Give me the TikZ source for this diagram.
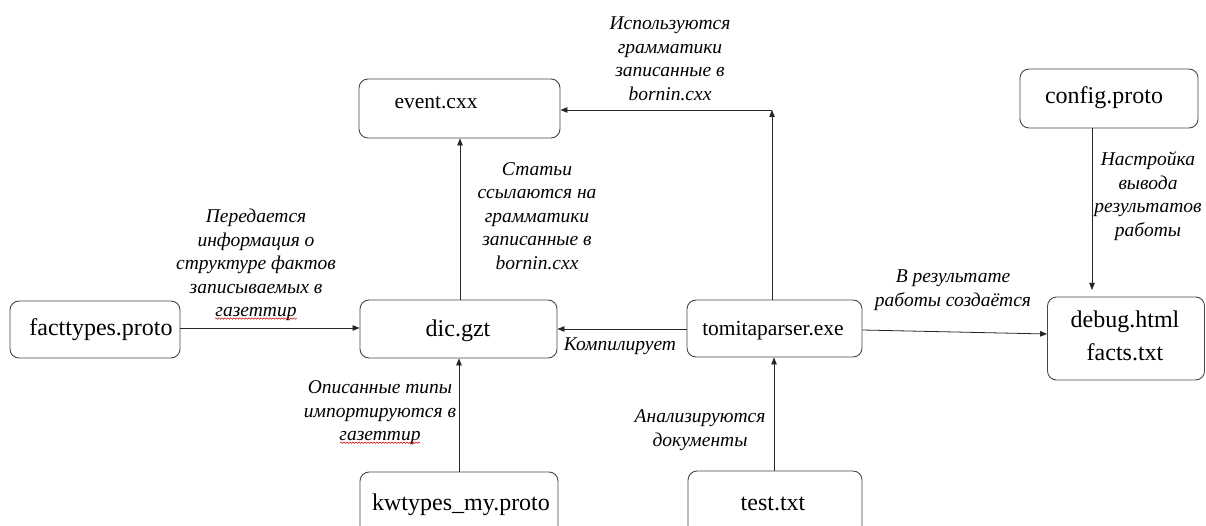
\documentclass[tikz,border=0pt]{standalone}
\usepackage{fontspec}
\setmainfont{Liberation Serif}
\usetikzlibrary{arrows.meta,decorations.pathmorphing,calc}
\begin{document}
\begin{tikzpicture}[x=1pt,y=-1pt,
  box/.style={draw=black!72, rounded corners=9pt, line width=0.9pt, inner sep=0pt},
  boxtext/.style={font=\fontsize{24}{28}\selectfont, inner sep=0pt, anchor=base},
  smalltext/.style={font=\fontsize{21.5}{25}\selectfont, inner sep=0pt, anchor=base},
  lab/.style={font=\fontsize{19.5}{23.5}\selectfont\itshape, align=center, inner sep=0pt},
  conn/.style={line width=0.8pt, draw=black!85, -{Triangle[length=7pt,width=5.5pt]}},
  plain/.style={line width=0.8pt, draw=black!85},
  wavy/.style={draw=red!80!black, line width=0.5pt, decorate,
    decoration={snake, segment length=3pt, amplitude=0.7pt}}
]
\fill[white] (0,0) rectangle (1206,526);
\useasboundingbox (0,0) rectangle (1206,526);
\clip (0,0) rectangle (1206,526);

% boxes
\node[box, minimum width=170pt, minimum height=57pt] (fact) at (95,329.5) {};
\node[boxtext] (factT) at (101,335) {facttypes.proto};

\node[box, minimum width=197pt, minimum height=58pt] (dic) at (458.5,329) {};
\node[boxtext] (dicT) at (458,336) {dic.gzt};

\node[box, minimum width=201pt, minimum height=59pt] (event) at (459.5,108.5) {};
\node[smalltext] (eventT) at (436,109) {event.cxx};

\node[box, minimum width=175pt, minimum height=57pt] (tomita) at (774.5,328.5) {};
\node[smalltext] (tomitaT) at (773,335) {tomitaparser.exe};

\node[box, minimum width=178pt, minimum height=59pt] (config) at (1109,98.5) {};
\node[boxtext] (configT) at (1104,104) {config.proto};

\node[box, minimum width=157pt, minimum height=83pt] (debug) at (1126,338.5) {};
\node[boxtext] (debugT1) at (1125,327) {debug.html};
\node[boxtext] (debugT2) at (1125,360) {facts.txt};

\node[box, minimum width=198pt, minimum height=80pt] (kw) at (459,512) {};
\node[boxtext] (kwT) at (461,510) {kwtypes\_my.proto};

\node[box, minimum width=174pt, minimum height=80pt] (test) at (775,511) {};
\node[boxtext] (testT) at (773,510) {test.txt};

% connectors
\draw[conn] (fact.east |- 0,328) -- (dic.west |- 0,328);
\draw[conn] (dic.north -| 460,0) -- (event.south -| 460,0);
\coordinate (corner) at (772,110);
\draw[conn] (tomita.north -| corner) -- (corner);
\draw[conn] (corner) -- (event.east |- corner);
\draw[conn] (tomita.west |- 0,329) -- (dic.east |- 0,329);
\draw[conn] (tomita.east |- 0,330) -- (debug.west |- 0,334);
\coordinate (cfgend) at (1092,290);
\draw[conn] (config.south -| cfgend) -- (cfgend);
\draw[conn] (kw.north -| 459,0) -- (dic.south -| 459,0);
\draw[conn] (test.north -| 774,0) -- (tomita.south -| 774,0);

% labels
\node[lab] (l1) at (256,265) {Передается\\информация о\\структуре фактов\\записываемых в\\газеттир};
\node[lab] (l2) at (670,59) {Используются\\грамматики\\записанные в\\bornin.cxx};
\node[lab] (l3) at (537,216) {Статьи\\ссылаются на\\грамматики\\записанные в\\bornin.cxx};
\node[lab] (l4) at (953,290) {В результате\\работы создаётся};
\node[lab] (l5) at (620,346) {Компилирует};
\node[lab] (l6) at (1148,196) {Настройка\\вывода\\результатов\\работы};
\node[lab] (l7) at (380,413) {Описанные типы\\импортируются в\\газеттир};
\node[lab] (l8) at (700,430) {Анализируются\\документы};

% spell-check underlines
\draw[wavy] ($(l1.south)+(-41,-2.5)$) -- ++(82,0);
\draw[wavy] ($(l7.south)+(-40,-2.5)$) -- ++(80,0);
\end{tikzpicture}
\end{document}
